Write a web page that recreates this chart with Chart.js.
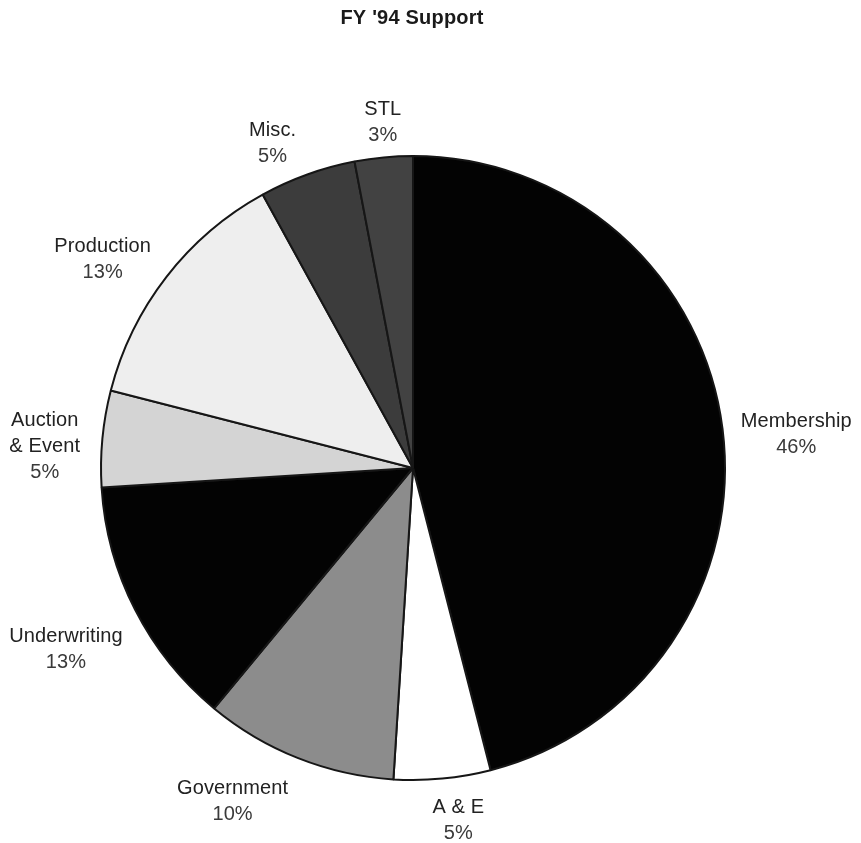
<!DOCTYPE html>
<html>
<head>
<meta charset="utf-8">
<title>FY '94 Support</title>
<script src="https://cdn.jsdelivr.net/npm/chart.js@4/dist/chart.umd.min.js"></script>
<style>
  html, body { margin: 0; padding: 0; background: #ffffff; }
  #wrap { width: 861px; height: 843px; }
</style>
</head>
<body>
<div id="wrap"><canvas id="chart" width="861" height="843"></canvas></div>
<script>
// Sources of support, clockwise from twelve o'clock
const categories = [
  ['Membership'],
  ['A & E'],
  ['Government'],
  ['Underwriting'],
  ['Auction', '& Event'],
  ['Production'],
  ['Misc.'],
  ['STL']
];
const shares = [46, 5, 10, 13, 5, 13, 5, 3];
const chartTitle = "FY '94 Support";

// Slice fills (grey scale)
const sliceColors = ['#030303', '#ffffff', '#8c8c8c', '#030303', '#d4d4d4', '#eeeeee', '#3c3c3c', '#424242'];

// Label layout: extra shift applied after the radial placement
const labelNudge = [[2, 15], [12, 0], [-44, -11], [-1, 5], [-5, 13], [-10, 24], [-19, 13], [3, 7]];
const LABEL_GAP = 14;
const LINE_H = 26;

const annotate = {
  id: 'annotate',
  afterDatasetsDraw(chart) {
    const ctx = chart.ctx;
    const meta = chart.getDatasetMeta(0);
    ctx.save();
    ctx.textAlign = 'center';
    ctx.textBaseline = 'middle';

    // title
    ctx.font = 'bold 20px "Liberation Sans", Arial, sans-serif';
    ctx.letterSpacing = '0.2px';
    ctx.fillStyle = '#1a1a1a';
    ctx.fillText(chartTitle, 412, 18);

    // slice labels
    ctx.font = '20px "Liberation Sans", Arial, sans-serif';
    ctx.letterSpacing = '0.1px';
    meta.data.forEach((arc, i) => {
      const p = arc.getProps(['x', 'y', 'startAngle', 'endAngle', 'outerRadius'], true);
      const mid = (p.startAngle + p.endAngle) / 2;
      const lines = categories[i].concat([shares[i] + '%']);
      const w = Math.max(...lines.map(t => ctx.measureText(t).width));
      const h = lines.length * LINE_H;
      const c = Math.cos(mid), s = Math.sin(mid);
      const dist = p.outerRadius + LABEL_GAP + Math.abs(c) * w / 2 + Math.abs(s) * h / 2;
      const cx = p.x + c * dist + labelNudge[i][0];
      const cy = p.y + s * dist + labelNudge[i][1];
      lines.forEach((t, k) => {
        ctx.fillStyle = k === lines.length - 1 ? '#3a3a3a' : '#222222';
        ctx.fillText(t, cx, cy + (k - (lines.length - 1) / 2) * LINE_H);
      });
    });
    ctx.restore();
  }
};

new Chart(document.getElementById('chart'), {
  type: 'pie',
  data: {
    labels: categories.map(l => l.join(' ')),
    datasets: [{
      data: shares,
      backgroundColor: sliceColors,
      borderColor: '#161616',
      borderWidth: 2,
      radius: 312
    }]
  },
  options: {
    responsive: false,
    animation: false,
    devicePixelRatio: 1,
    layout: { padding: { left: 0, right: 35, top: 93, bottom: 0 } },
    plugins: {
      legend: { display: false },
      title: { display: false },
      tooltip: { enabled: false }
    }
  },
  plugins: [annotate]
});
</script>
</body>
</html>
